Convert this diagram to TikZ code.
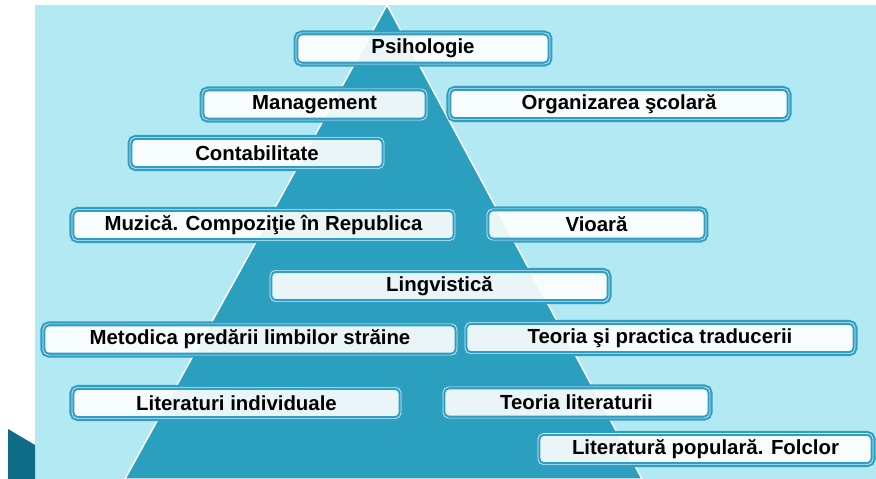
\documentclass[tikz,border=0pt]{standalone}
\usepackage{fontspec}
\setmainfont{Liberation Sans}
\definecolor{skyback}{RGB}{179,233,243}
\definecolor{pyramid}{RGB}{43,160,190}
\definecolor{boxrim}{RGB}{48,158,194}
\definecolor{rimpale}{RGB}{205,238,247}
\definecolor{cornerteal}{RGB}{14,108,136}
\newcommand{\backdrop}{
  % The sky
  \fill [skyback] (35,5) rectangle (876,479);
  % Dark corner piece
  \fill [cornerteal] (8,429) -- (35,445) -- (35,479) -- (8,479) -- cycle;
  % The pyramid
  \filldraw [fill=pyramid,draw=white,line width=1pt] (387,5) -- (642,479) -- (125,479) -- cycle;
}
\tikzset{
  subject/.style={draw=boxrim, line width=1.5pt, double=rimpale, double distance=0.5pt,
    rounded corners=4pt, fill=white, fill opacity=0.9, text opacity=1, text=black,
    minimum height=0.78cm, inner sep=0pt,
    font=\bfseries\fontsize{14.5}{17}\selectfont}
}
\begin{document}
\begin{tikzpicture}[x=0.025cm,y=-0.025cm]
    \useasboundingbox (0,0) rectangle (876,479);
    \backdrop

    % Top of the pyramid
    \node [subject, minimum width=6.35cm] (psihologie) at (423,48.5) {Psihologie};
    \node [subject, minimum width=5.625cm] (management) at (314.5,104.5) {Management};
    \node [subject, minimum width=8.5cm] (organizarea) at (619,104) {Organizarea şcolară};
    \node [subject, minimum width=6.35cm] (contabilitate) at (257,153) {Contabilitate};

    % Middle
    \node [subject, minimum width=9.575cm] (muzica) at (263.5,225) {Muzică. Compoziţie în Republica};
    \node [subject, minimum width=5.475cm] (vioara) at (596.5,224.5) {Vioară};
    \node [subject, minimum width=8.475cm] (lingvistica) at (439.5,286) {Lingvistică};

    % Base of the pyramid
    \node [subject, minimum width=10.35cm] (metodica) at (250,339.5) {Metodica predării limbilor străine};
    \node [subject, minimum width=9.75cm] (traducere) at (660,338) {Teoria şi practica traducerii};
    \node [subject, minimum width=8.225cm] (literaturi) at (236.5,403) {Literaturi individuale};
    \node [subject, minimum width=6.675cm] (teoria) at (576.5,402.5) {Teoria literaturii};
    \node [subject, minimum width=8.375cm] (folclor) at (705.5,449) {Literatură populară. Folclor};
  \end{tikzpicture}
\end{document}
